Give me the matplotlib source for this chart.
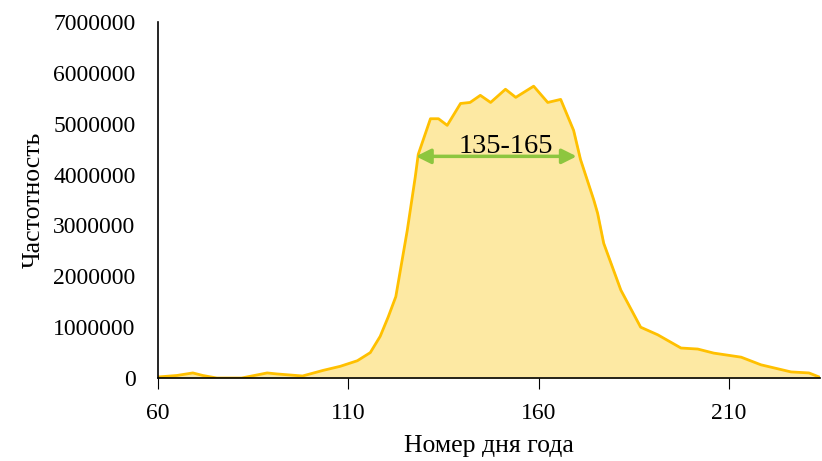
import matplotlib.pyplot as plt

plt.rcParams['font.family'] = ['Liberation Serif', 'DejaVu Serif']

days = [60, 65, 69.2, 71.8, 75.5, 82, 88.7, 91.3, 98, 103.4, 107.9, 112.4,
        115.8, 118.4, 120.5, 122.5, 125.5, 127.6, 128.4, 131.6, 133.7, 136,
        139.5, 142, 144.7, 147.4, 151.3, 154, 158.7, 162.4, 165.8, 169.2,
        171, 174.5, 175.5, 177.1, 181.6, 186.8, 191.3, 197.4, 201.8, 206,
        213.2, 218.4, 226.3, 231, 233.7]
freq = [0.02, 0.05, 0.1, 0.05, 0.0, 0.0, 0.1, 0.08, 0.04, 0.15, 0.23, 0.34,
        0.5, 0.82, 1.2, 1.6, 2.9, 3.95, 4.4, 5.1, 5.1, 4.97,
        5.4, 5.42, 5.56, 5.42, 5.68, 5.52, 5.74, 5.42, 5.48, 4.87,
        4.3, 3.5, 3.24, 2.65, 1.73, 1.0, 0.85, 0.59, 0.57, 0.49,
        0.41, 0.26, 0.12, 0.1, 0.02]
freq = [v * 1e6 for v in freq]

fig, ax = plt.subplots(figsize=(8.22, 4.61), dpi=100)
fig.subplots_adjust(left=0.192, right=0.998, bottom=0.18, top=0.952)

ax.fill_between(days, freq, color='#fde9a3', zorder=1)
ax.plot(days, freq, color='#ffc000', lw=2, zorder=2)

ax.annotate('', xy=(127.8, 4.36e6), xytext=(170, 4.36e6),
            arrowprops=dict(arrowstyle='<|-|>', color='#8dc63f', lw=2.5,
                            mutation_scale=22, shrinkA=0, shrinkB=0))
ax.text(151.4, 4.55e6, '135-165', ha='center', va='center', fontsize=20.5)

ax.set_xlim(60, 234)
ax.set_ylim(0, 7e6)
ax.set_xticks([60, 110, 160, 210])
ax.set_yticks(range(0, 7000001, 1000000))
ax.ticklabel_format(style='plain', axis='y')

for s in ['top', 'right']:
    ax.spines[s].set_visible(False)
ax.spines['left'].set_linewidth(1.2)
ax.spines['bottom'].set_linewidth(1.2)
ax.tick_params(axis='y', length=0, labelsize=17, pad=16)
ax.tick_params(axis='x', length=8, direction='out', labelsize=17, pad=10)

ax.set_xlabel('Номер дня года', fontsize=18.5, labelpad=8)
ax.set_ylabel('Частотность', fontsize=18.5, labelpad=6)

fig.savefig('out.png', dpi=100)
